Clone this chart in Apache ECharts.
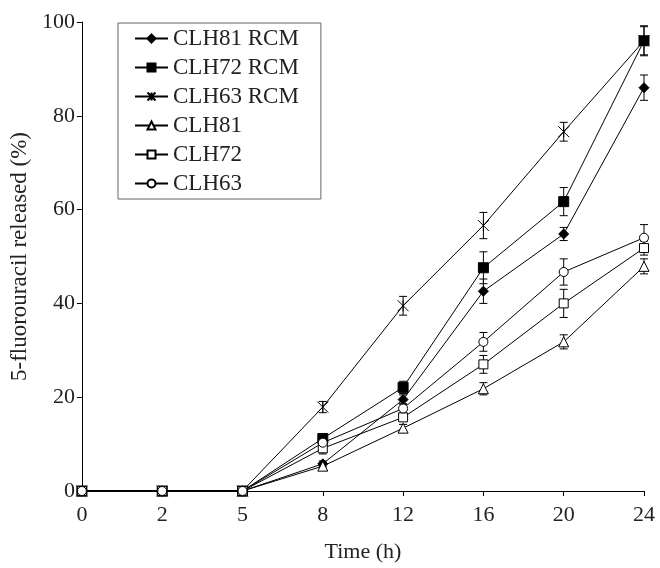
<!DOCTYPE html>
<html>
<head>
<meta charset="utf-8">
<script src="https://cdn.jsdelivr.net/npm/echarts@6/dist/echarts.min.js"></script>
<style>
html, body { margin: 0; padding: 0; background: #fff; }
#chart { width: 660px; height: 568px; }
</style>
</head>
<body>
<div id="chart"></div>
<script>
var times = ['0', '2', '5', '8', '12', '16', '20', '24'];
var names = ['CLH81 RCM', 'CLH72 RCM', 'CLH63 RCM', 'CLH81', 'CLH72', 'CLH63'];

var clh81rcm = [0, 0, 0, 5.8, 19.5, 42.6, 54.8, 86.0];
var clh72rcm = [0, 0, 0, 11.2, 22.1, 47.6, 61.7, 96.0];
var clh63rcm = [0, 0, 0, 17.9, 39.5, 56.6, 76.6, 96.0];
var clh81 = [0, 0, 0, 5.3, 13.4, 21.8, 31.8, 47.9];
var clh72 = [0, 0, 0, 9.1, 15.7, 27.0, 40.0, 51.8];
var clh63 = [0, 0, 0, 10.3, 17.6, 31.8, 46.7, 54.0];

// error bar half-widths (±)
var err81rcm = [0, 0, 0, 0.6, 1.0, 2.6, 1.4, 2.7];
var err72rcm = [0, 0, 0, 0.8, 1.3, 3.4, 3.0, 3.2];
var err63rcm = [0, 0, 0, 1.2, 2.0, 2.8, 2.0, 3.0];
var err81 = [0, 0, 0, 0.6, 0.8, 1.3, 1.5, 1.6];
var err72 = [0, 0, 0, 1.2, 0.8, 1.9, 3.0, 1.5];
var err63 = [0, 0, 0, 0.8, 1.0, 2.0, 2.8, 2.8];

var font = '"Liberation Serif", "Times New Roman", serif';
var asterisk = 'path://M0,0L10,10M10,0L0,10M5,0L5,10';

var myChart = echarts.init(document.getElementById('chart'));

function lineSeries(name, data, symbol, size, fill) {
    return {
        name: name,
        type: 'line',
        data: data,
        symbol: symbol,
        symbolSize: size,
        z: 3,
        lineStyle: { color: '#000', width: 1 },
        itemStyle: { color: fill, borderColor: '#000', borderWidth: 1 },
        emphasis: { disabled: true }
    };
}

function errorSeries(data, errs) {
    var pts = data.map(function (v, i) {
        return [i, v - errs[i], v + errs[i], errs[i]];
    });
    return {
        type: 'custom',
        z: 2,
        silent: true,
        data: pts,
        renderItem: function (params, api) {
            if (api.value(3) <= 0) return null;
            var i = api.value(0);
            var lo = api.coord([i, api.value(1)]);
            var hi = api.coord([i, api.value(2)]);
            var w = 4;
            var st = { stroke: '#000', lineWidth: 1 };
            return {
                type: 'group',
                children: [
                    { type: 'line', shape: { x1: lo[0], y1: lo[1], x2: hi[0], y2: hi[1] }, style: st },
                    { type: 'line', shape: { x1: lo[0] - w, y1: lo[1], x2: lo[0] + w, y2: lo[1] }, style: st },
                    { type: 'line', shape: { x1: hi[0] - w, y1: hi[1], x2: hi[0] + w, y2: hi[1] }, style: st }
                ]
            };
        }
    };
}

var option = {
    animation: false,
    backgroundColor: '#fff',
    textStyle: { fontFamily: font },
    grid: { left: 81, right: 16, top: 22, bottom: 65 },
    legend: {
        data: names,
        orient: 'vertical',
        left: 118,
        top: 23,
        padding: [4, 22, 4, 16],
        itemGap: 6,
        itemWidth: 33,
        itemHeight: 10,
        borderColor: '#666',
        borderWidth: 1,
        selectedMode: false,
        textStyle: { fontFamily: font, fontSize: 23, color: '#222' }
    },
    xAxis: {
        type: 'category',
        data: times,
        boundaryGap: false,
        name: 'Time (h)',
        nameLocation: 'middle',
        nameGap: 50,
        nameTextStyle: { fontFamily: font, fontSize: 22, color: '#222' },
        axisLine: { lineStyle: { color: '#000', width: 1 } },
        axisTick: { inside: false, length: 5, lineStyle: { color: '#000' } },
        axisLabel: { margin: 13, fontFamily: font, fontSize: 22, color: '#222' },
        splitLine: { show: false }
    },
    yAxis: {
        type: 'value',
        min: 0,
        max: 100,
        interval: 20,
        name: '5-fluorouracil released (%)',
        nameLocation: 'middle',
        nameGap: 45,
        nameTextStyle: { fontFamily: font, fontSize: 23, color: '#222' },
        axisLine: { show: true, lineStyle: { color: '#000', width: 1 } },
        axisTick: { show: true, inside: false, length: 5, lineStyle: { color: '#000' } },
        axisLabel: { margin: 7, fontFamily: font, fontSize: 22, color: '#222' },
        splitLine: { show: false }
    },
    series: [
        errorSeries(clh81rcm, err81rcm),
        errorSeries(clh72rcm, err72rcm),
        errorSeries(clh63rcm, err63rcm),
        errorSeries(clh81, err81),
        errorSeries(clh72, err72),
        errorSeries(clh63, err63),
        lineSeries('CLH81 RCM', clh81rcm, 'diamond', 10, '#000'),
        lineSeries('CLH72 RCM', clh72rcm, 'rect', 10, '#000'),
        lineSeries('CLH63 RCM', clh63rcm, asterisk, 11, '#fff'),
        lineSeries('CLH81', clh81, 'triangle', 10, '#fff'),
        lineSeries('CLH72', clh72, 'rect', 9, '#fff'),
        lineSeries('CLH63', clh63, 'circle', 9, '#fff')
    ]
};

myChart.setOption(option);
</script>
</body>
</html>
